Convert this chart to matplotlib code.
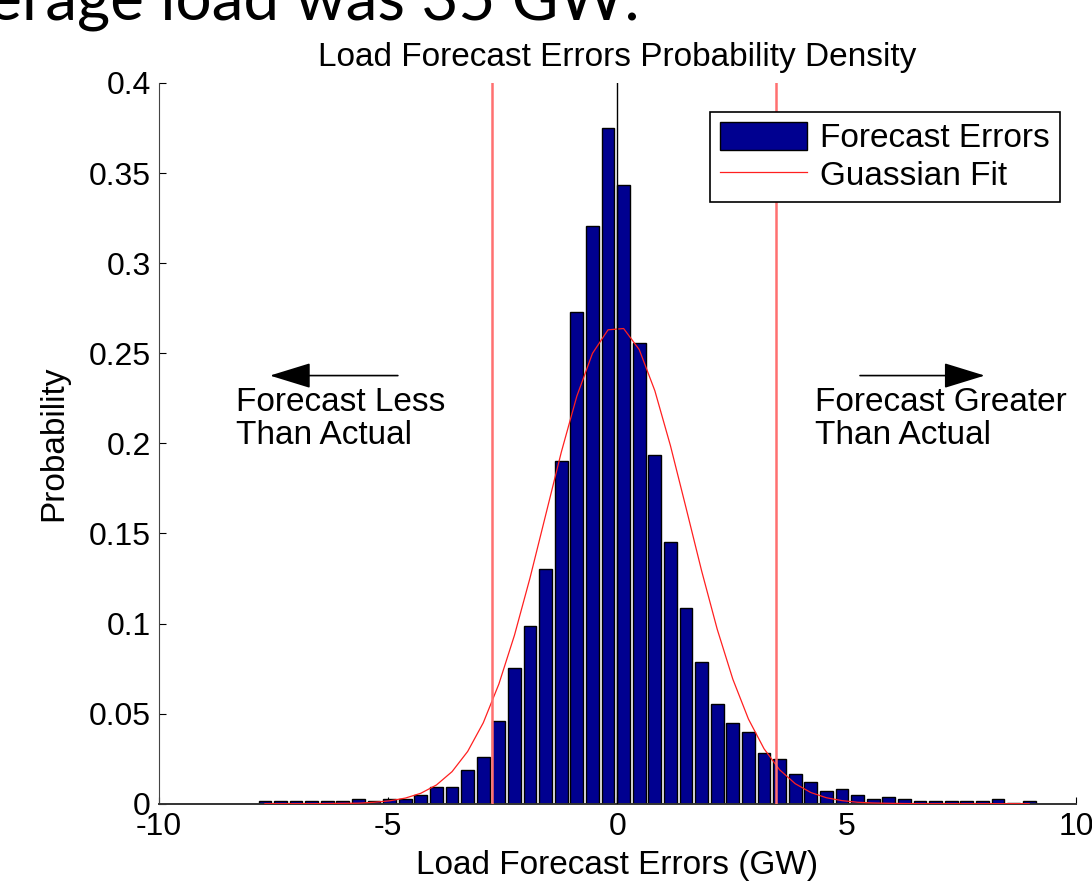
import matplotlib
matplotlib.use("Agg")
import matplotlib.pyplot as plt
import numpy as np

plt.rcParams["font.family"] = ["Liberation Sans", "DejaVu Sans"]

# histogram: 50 bins between min and max error (GW)
err_min, err_max = -7.86, 9.15
bar_heights = [
    0.0015, 0.0015, 0.0015, 0.0015, 0.0015, 0.0015, 0.0026, 0.0015, 0.0026, 0.0026,
    0.0048, 0.0094, 0.0094, 0.0187, 0.0258, 0.0458, 0.0752, 0.0986, 0.1302, 0.1900,
    0.2730, 0.3204, 0.3748, 0.3433, 0.2556, 0.1937, 0.1454, 0.1086, 0.0786, 0.0552,
    0.0447, 0.0398, 0.0283, 0.0248, 0.0165, 0.0120, 0.0072, 0.0083, 0.0048, 0.0026,
    0.0037, 0.0026, 0.0015, 0.0015, 0.0015, 0.0015, 0.0015, 0.0026, 0.0004, 0.0015,
]
# gaussian fit sampled at bin centres
fit_values = [
    0.0000, 0.0000, 0.0000, 0.0000, 0.0001, 0.0002, 0.0003, 0.0008, 0.0016, 0.0031,
    0.0058, 0.0104, 0.0178, 0.0290, 0.0449, 0.0664, 0.0935, 0.1254, 0.1602, 0.1950,
    0.2262, 0.2499, 0.2630, 0.2637, 0.2520, 0.2292, 0.1987, 0.1642, 0.1292, 0.0968,
    0.0691, 0.0470, 0.0305, 0.0188, 0.0111, 0.0062, 0.0033, 0.0017, 0.0008, 0.0004,
    0.0002, 0.0001, 0.0000, 0.0000, 0.0000, 0.0000, 0.0000, 0.0000, 0.0000, 0.0000,
]
bound_lo, bound_hi = -2.74, 3.46

xticks = [-10, -5, 0, 5, 10]
yticks = [0, 0.05, 0.1, 0.15, 0.2, 0.25, 0.3, 0.35, 0.4]
ytick_labels = ["0", "0.05", "0.1", "0.15", "0.2", "0.25", "0.3", "0.35", "0.4"]

edges = np.linspace(err_min, err_max, len(bar_heights) + 1)
centers = (edges[:-1] + edges[1:]) / 2
bw = edges[1] - edges[0]

FS = 24
fig = plt.figure(figsize=(10.92, 8.92), dpi=100)
ax = fig.add_axes([0.1456, 0.0990, 0.8397, 0.8080])

# slide heading, cut off by the top/left edge like in the screenshot
fig.text(0.586, 0.9776, "Average load was 35 GW.", fontsize=46, family="Lato",
         ha="right", va="baseline")

bars = ax.bar(centers, bar_heights, width=bw * 0.82, color="#000090", edgecolor="black",
              linewidth=1.0, zorder=2)
fit_line, = ax.plot(centers, fit_values, color="#ff2020", lw=0.9, zorder=3)
ax.plot([0, 0], [0, 0.4], color="black", lw=1.0, zorder=4)
for xb in (bound_lo, bound_hi):
    ax.plot([xb, xb], [0, 0.4], color="#ff7070", lw=1.8, zorder=4)

ax.set_xlim(-10, 10)
ax.set_ylim(0, 0.4)
ax.set_xticks(xticks)
ax.set_xticklabels([str(t) for t in xticks])
ax.set_yticks(yticks)
ax.set_yticklabels(ytick_labels)
ax.tick_params(direction="in", length=5, labelsize=23, pad=6)
for s in ("top", "right"):
    ax.spines[s].set_visible(False)
ax.spines["bottom"].set_linewidth(1.4)
ax.spines["bottom"].set_color("#333333")
ax.spines["left"].set_color("#444444")

ax.set_title("Load Forecast Errors Probability Density", fontsize=FS, pad=12)
ax.set_xlabel("Load Forecast Errors (GW)", fontsize=FS, labelpad=6)
ax.set_ylabel("Probability", fontsize=FS, labelpad=14)

arrow = dict(arrowstyle="-|>,head_length=1.3,head_width=0.4", color="black",
             lw=1.2, mutation_scale=20, shrinkA=0, shrinkB=0)
ax.annotate("", xy=(-7.58, 0.2376), xytext=(-4.79, 0.2376), arrowprops=arrow)
ax.annotate("", xy=(8.01, 0.2376), xytext=(5.29, 0.2376), arrowprops=arrow)
ax.text(-8.32, 0.231, "Forecast Less\nThan Actual", fontsize=FS, va="top",
        ha="left", linespacing=1.05)
ax.text(4.31, 0.231, "Forecast Greater\nThan Actual", fontsize=FS, va="top",
        ha="left", linespacing=1.05)

leg = ax.legend([bars, fit_line], ["Forecast Errors", "Guassian Fit"],
                loc="upper right", bbox_to_anchor=(0.9826, 0.9598), borderaxespad=0,
                fontsize=FS, fancybox=False, edgecolor="black", framealpha=1,
                handlelength=2.6, handleheight=0.9, labelspacing=0.15,
                borderpad=0.3, handletextpad=0.4)
leg.get_frame().set_linewidth(1.2)

fig.savefig("out.png", dpi=100)
